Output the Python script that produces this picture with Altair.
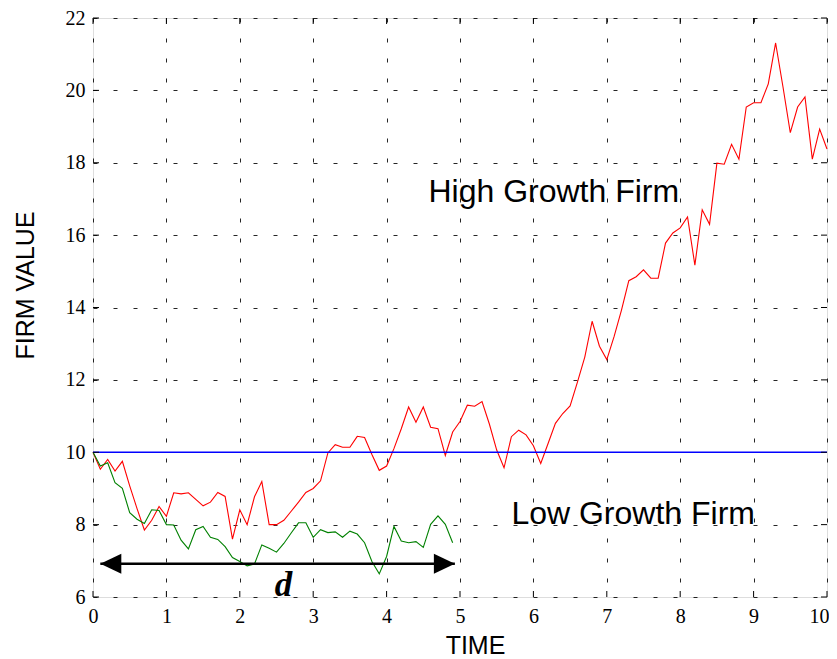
import altair as alt
import pandas as pd

# ---------------- data ----------------
HIGH_GROWTH = [
    10.0, 9.53, 9.8, 9.48, 9.75, 9.07, 8.44, 7.85, 8.12, 8.5,
    8.23, 8.88, 8.85, 8.88, 8.7, 8.52, 8.62, 8.89, 8.78, 7.6,
    8.41, 8.0, 8.77, 9.19, 8.0, 8.0, 8.12, 8.37, 8.62, 8.89,
    9.0, 9.21, 9.98, 10.21, 10.14, 10.14, 10.44, 10.41, 9.94, 9.5,
    9.62, 10.1, 10.65, 11.25, 10.83, 11.25, 10.69, 10.65, 9.91, 10.56,
    10.85, 11.3, 11.27, 11.4, 10.78, 10.06, 9.57, 10.43, 10.61, 10.48,
    10.18, 9.69, 10.24, 10.8, 11.07, 11.28, 11.94, 12.63, 13.62, 12.93,
    12.56, 13.2, 13.93, 14.74, 14.85, 15.04, 14.81, 14.81, 15.78, 16.06,
    16.2, 16.5, 15.17, 16.7, 16.3, 17.99, 17.96, 18.51, 18.1, 19.54,
    19.66, 19.66, 20.18, 21.31, 20.1, 18.83, 19.54, 19.82, 18.1, 18.93,
    18.38,
]
LOW_GROWTH = [
    10.0, 9.62, 9.71, 9.16, 9.0, 8.33, 8.15, 8.03, 8.41, 8.39,
    8.0, 7.99, 7.57, 7.33, 7.86, 7.95, 7.65, 7.59, 7.39, 7.09,
    6.98, 6.86, 6.91, 7.44, 7.35, 7.24, 7.48, 7.77, 8.05, 8.05,
    7.65, 7.86, 7.78, 7.8, 7.65, 7.82, 7.74, 7.5, 6.98, 6.64,
    7.12, 7.95, 7.55, 7.5, 7.53, 7.37, 8.01, 8.24, 8.01, 7.5,
]
TIME_STEP = 0.1
X_TICKS = [0, 1, 2, 3, 4, 5, 6, 7, 8, 9, 10]
Y_TICKS = [6, 8, 10, 12, 14, 16, 18, 20, 22]
REFERENCE_LEVEL = [10]
ARROW_START, ARROW_END, ARROW_LEVEL = [0.1], [4.93], [6.92]
HIGH_LABEL = {"text": ["High Growth Firm"], "t": [4.57], "v": [16.915]}
LOW_LABEL = {"text": ["Low Growth Firm"], "t": [5.70], "v": [8.014]}
D_LABEL = {"text": ["d"], "t": [2.595], "v": [6.04]}

# ---------------- tables ----------------
t_high = [round(i * TIME_STEP, 1) for i in range(len(HIGH_GROWTH))]
t_low = [round(i * TIME_STEP, 1) for i in range(len(LOW_GROWTH))]
lines_df = pd.DataFrame({
    "t": t_high + t_low,
    "v": HIGH_GROWTH + LOW_GROWTH,
    "firm": ["High"] * len(HIGH_GROWTH) + ["Low"] * len(LOW_GROWTH),
})
ref_df = pd.DataFrame({"v": REFERENCE_LEVEL})
arrow_df = pd.DataFrame({"t": ARROW_START, "t2": ARROW_END, "v": ARROW_LEVEL})
xt_df = pd.DataFrame({"t": X_TICKS})
yt_df = pd.DataFrame({"v": Y_TICKS})

W, H = 734, 579
xs = alt.Scale(domain=[0, 10], nice=False, zero=False)
ys = alt.Scale(domain=[6, 22], nice=False, zero=False)

common_axis = dict(
    grid=True, gridDash=[4, 16], gridColor="#000000", gridWidth=1, gridOpacity=0.85,
    domain=False, ticks=False, tickSize=0,
    labelFont="Liberation Serif", labelFontSize=20, labelColor="#000000",
    labelFlush=False, labelOverlap=False, format="d",
    titleFont="Liberation Sans", titleFontSize=25, titleFontWeight="normal",
    titleColor="#000000", titleAlign="center", titleBaseline="alphabetic",
)
x_axis = alt.Axis(
    values=X_TICKS, title="TIME", labelPadding=9,
    labelAlign={"condition": {"test": "datum.value == 10", "value": "right"},
                "value": "center"},
    labelOffset={"condition": {"test": "datum.value == 10", "value": 2},
                 "value": 0},
    titleX=382, titleY=56, **common_axis,
)
y_axis = alt.Axis(values=Y_TICKS, title="FIRM VALUE", labelPadding=8,
                  titleAngle=270, titleX=-60, titleY=267, **common_axis)


def X(field):
    return alt.X(field, type="quantitative", scale=xs, axis=x_axis)


def Y(field):
    return alt.Y(field, type="quantitative", scale=ys, axis=y_axis)


lines = alt.Chart(lines_df).mark_line(strokeWidth=1.1).encode(
    x=X("t"),
    y=Y("v"),
    color=alt.Color("firm:N", scale=alt.Scale(domain=["High", "Low"],
                                              range=["#ff0000", "#008000"]), legend=None),
    detail="firm:N",
)

ref_line = alt.Chart(ref_df).mark_rule(color="#0000ff", strokeWidth=1.3).encode(y=Y("v"))

shaft = alt.Chart(arrow_df).mark_rule(color="#000000", strokeWidth=2.6).encode(
    x=X("t"), x2="t2:Q", y=Y("v"),
)
head_left = alt.Chart(arrow_df).mark_point(
    shape="M0,0L2.1,-1L2.1,1Z", filled=True, size=400, color="#000000",
    opacity=1, strokeWidth=0,
).encode(x=X("t"), y=Y("v"))
head_right = alt.Chart(arrow_df).mark_point(
    shape="M0,0L-2.1,-1L-2.1,1Z", filled=True, size=400, color="#000000",
    opacity=1, strokeWidth=0,
).encode(x=X("t2"), y=Y("v"))


def label(d, **kw):
    return alt.Chart(pd.DataFrame(d)).mark_text(color="#000000", **kw).encode(
        x=X("t"), y=Y("v"), text="text:N",
    )


high_txt = label(HIGH_LABEL, font="Liberation Sans", fontSize=32, align="left",
                 baseline="alphabetic")
low_txt = label(LOW_LABEL, font="Liberation Sans", fontSize=32, align="left",
                baseline="alphabetic")
d_txt = label(D_LABEL, font="Liberation Serif", fontSize=35, fontStyle="italic",
              fontWeight="bold", align="center", baseline="alphabetic")

# inward tick marks on all four sides
tick_style = dict(color="#000000", strokeWidth=1)
ticks_bottom = alt.Chart(xt_df).mark_rule(**tick_style).encode(
    x=X("t"), y=alt.value(H), y2=alt.value(H - 6))
ticks_top = alt.Chart(xt_df).mark_rule(**tick_style).encode(
    x=X("t"), y=alt.value(0), y2=alt.value(6))
ticks_left = alt.Chart(yt_df).mark_rule(**tick_style).encode(
    y=Y("v"), x=alt.value(0), x2=alt.value(6))
ticks_right = alt.Chart(yt_df).mark_rule(**tick_style).encode(
    y=Y("v"), x=alt.value(W - 6), x2=alt.value(W))

chart = alt.layer(
    lines, ref_line, ticks_bottom, ticks_top, ticks_left, ticks_right,
    shaft, head_left, head_right, high_txt, low_txt, d_txt,
).properties(
    width=W, height=H,
    autosize=alt.AutoSizeParams(type="none"),
    padding={"left": 85, "top": 10, "right": 2, "bottom": 62},
).configure_view(
    stroke="#000000", strokeWidth=1.8,
).configure(background="white")

chart.save("out.html", embed_options={"renderer": "svg", "actions": False})
